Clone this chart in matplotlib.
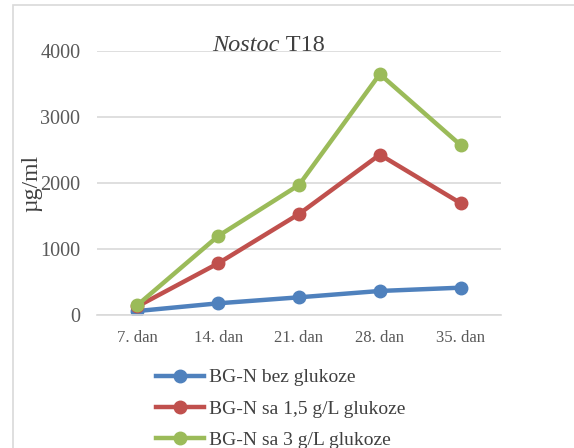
import matplotlib.pyplot as plt
from matplotlib.patches import Rectangle

# data
days = ['7. dan', '14. dan', '21. dan', '28. dan', '35. dan']
bez_glukoze = [60, 177, 268, 364, 414]
sa_15_glukoze = [130, 783, 1530, 2430, 1695]
sa_3_glukoze = [150, 1197, 1970, 3650, 2575]

labels = ['BG-N bez glukoze', 'BG-N sa 1,5 g/L glukoze', 'BG-N sa 3 g/L glukoze']
colors = ['#4f81bd', '#c0504d', '#9bbb59']

plt.rcParams['font.family'] = ['Liberation Serif', 'DejaVu Serif']

fig = plt.figure(figsize=(5.74, 4.48), dpi=100)
ax = fig.add_axes([97 / 574, 1 - 315 / 448, 404 / 574, 264 / 448])

# chart border
fig.patches.append(Rectangle((13 / 574, -0.1), 1.2, 1 - 5 / 448 + 0.1,
                             transform=fig.transFigure, fill=False,
                             edgecolor='#d9d9d9', linewidth=1.2))

x = range(len(days))
for series, lab, c in zip([bez_glukoze, sa_15_glukoze, sa_3_glukoze], labels, colors):
    ax.plot(x, series, color=c, linewidth=3.2, marker='o', markersize=9, label=lab)

ax.set_xlim(-0.5, 4.5)
ax.set_ylim(0, 4000)
ax.set_yticks([0, 1000, 2000, 3000, 4000])
ax.set_xticks(list(x))
ax.set_xticklabels(days)
ax.grid(axis='y', color='#d9d9d9', linewidth=1.2)
ax.set_axisbelow(True)
for s in ['top', 'right', 'left']:
    ax.spines[s].set_visible(False)
ax.spines['bottom'].set_color('#d9d9d9')
ax.spines['bottom'].set_linewidth(1.2)
ax.tick_params(axis='both', length=0, colors='#595959')
ax.tick_params(axis='y', labelsize=14.5, pad=12)
ax.tick_params(axis='x', labelsize=12, pad=11)

fig.text(32 / 574, 1 - 183 / 448, 'µg/ml', fontsize=17, rotation=90,
         color='#404040', ha='center', va='center')

fig.text(0.487, 1 - 51 / 448, 'Nostoc', fontsize=17.5, style='italic', color='#404040',
         ha='right', va='baseline')
fig.text(0.487, 1 - 51 / 448, ' T18', fontsize=17.5, color='#404040',
         ha='left', va='baseline')

ax.legend(loc='upper left', bbox_to_anchor=(146 / 574, 1 - 359 / 448),
          bbox_transform=fig.transFigure, frameon=False, fontsize=14,
          handlelength=2.5, labelspacing=0.7, handletextpad=0.25, borderpad=0,
          labelcolor='#404040')

fig.savefig('out.png', dpi=100)
